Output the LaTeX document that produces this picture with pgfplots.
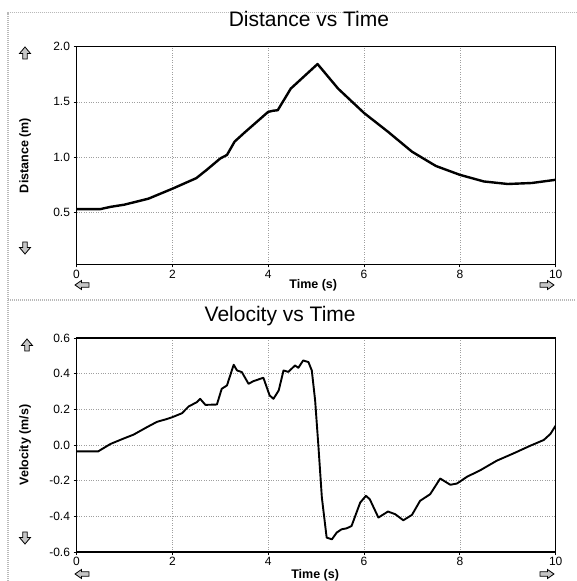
\documentclass[border=0pt]{standalone}
\usepackage{pgfplots}
\pgfplotsset{compat=1.18}
\usepackage{fontspec}
\setmainfont{Liberation Sans}
\pgfplotsset{
  myax/.style={
    scale only axis, width=479.2pt,
    xmin=0, xmax=10, xtick={0,2,4,6,8,10},
    xtick pos=bottom, ytick pos=left,
    grid=major, grid style={gray!75, dotted, line width=0.7pt},
    axis line style={line width=1.2pt},
    tick style={black, line width=0.8pt},
    major tick length=3pt, tick align=outside,
    ticklabel style={font=\fontsize{12}{14}\selectfont},
    /pgf/number format/assume math mode=true,
    yticklabel style={/pgf/number format/fixed, /pgf/number format/fixed zerofill, /pgf/number format/precision=1},
    xticklabel style={/pgf/number format/fixed, yshift=1pt},
    label style={font=\bfseries\fontsize{12.5}{14}\selectfont},
    ylabel style={at={(axis description cs:-0.107,0.5)}, anchor=center, rotate=0},
    title style={font=\fontsize{21}{25}\selectfont, anchor=center},
  }
}
\tikzset{
  uparr/.pic={\draw[fill=gray!45, line width=0.8pt, line join=miter]
    (-2.2,-6)--(2.2,-6)--(2.2,-0.5)--(5.5,-0.5)--(0,6)--(-5.5,-0.5)--(-2.2,-0.5)--cycle;},
  sidearr/.pic={\draw[fill=gray!45, line width=0.8pt, line join=miter]
    (-7,-2.2)--(0.5,-2.2)--(0.5,-4.5)--(7,0)--(0.5,4.5)--(0.5,2.2)--(-7,2.2)--cycle;}
}
\begin{document}
\begin{tikzpicture}[x=1pt,y=1pt]
\path[use as bounding box] (0,0) rectangle (576,581);
\draw[gray!55, line width=1.5pt, dash pattern=on 1pt off 1pt] (8,0) -- (8,568.3) -- (576,568.3);
\draw[gray!55, line width=1.5pt, dash pattern=on 1pt off 1pt] (8,281) -- (576,281);

\begin{axis}[myax, at={(76.5pt,316.7pt)}, anchor=south west, height=217.6pt,
  ymin=0.03, ymax=2.0, ytick={0.5,1,1.5,2},
  title={Distance vs Time}, title style={at={(axis description cs:0.485,1.10)}},
  xlabel={Time (s)}, xlabel style={at={(axis description cs:0.494,-0.095)}, anchor=center},
  ylabel={Distance (m)}]
\addplot[black, line width=2.4pt, line join=round] coordinates {
(0,0.53) (0.5,0.53) (0.71,0.55) (1.0,0.57) (1.5,0.624) (2.0,0.714) (2.5,0.81)
(2.72,0.886) (3.0,0.988) (3.14,1.02) (3.3,1.141) (3.5,1.22) (4.0,1.41) (4.1,1.42) (4.2,1.425)
(4.47,1.62) (5.03,1.843) (5.46,1.62) (6.0,1.40) (6.5,1.23) (7.0,1.05) (7.5,0.92)
(8.0,0.84) (8.5,0.78) (9.0,0.757) (9.5,0.766) (10.0,0.795)
};
\end{axis}

\begin{axis}[myax, at={(76.5pt,29pt)}, anchor=south west, height=214pt,
  ymin=-0.6, ymax=0.6, ytick={-0.6,-0.4,-0.2,0,0.2,0.4,0.6},
  title={Velocity vs Time}, title style={at={(axis description cs:0.425,1.076)}},
  xlabel={Time (s)}, xlabel style={at={(axis description cs:0.498,-0.107)}, anchor=center},
  ylabel={Velocity (m/s)}]
\addplot[black, line width=1.9pt, line join=round] coordinates {
(0,-0.036) (0.45,-0.036) (0.71,0.006) (0.99,0.037) (1.19,0.058) (1.47,0.10) (1.68,0.13)
(1.89,0.146) (2.0,0.156) (2.2,0.178) (2.34,0.216) (2.51,0.24) (2.58,0.259) (2.69,0.225)
(2.93,0.227) (3.03,0.315) (3.14,0.334) (3.28,0.45) (3.35,0.418) (3.45,0.409) (3.59,0.343)
(3.69,0.358) (3.9,0.377) (4.03,0.278) (4.11,0.259) (4.22,0.306) (4.32,0.418) (4.42,0.41)
(4.56,0.446) (4.63,0.433) (4.73,0.474) (4.84,0.465) (4.91,0.418) (4.98,0.249) (5.05,-0.013)
(5.12,-0.294) (5.22,-0.519) (5.33,-0.529) (5.43,-0.491) (5.53,-0.473) (5.64,-0.467)
(5.74,-0.454) (5.92,-0.323) (6.04,-0.285) (6.12,-0.304) (6.3,-0.407) (6.5,-0.373)
(6.65,-0.388) (6.82,-0.422) (7.0,-0.392) (7.17,-0.313) (7.38,-0.276) (7.59,-0.188)
(7.80,-0.223) (7.94,-0.216) (8.15,-0.178) (8.43,-0.141) (8.77,-0.088) (9.12,-0.047)
(9.47,-0.004) (9.75,0.028) (9.89,0.062) (10.0,0.109)
};
\end{axis}

\pic at (25,528) {uparr};
\pic[rotate=180] at (25,333) {uparr};
\pic[rotate=180] at (82,296) {sidearr};
\pic at (547,296) {sidearr};
\pic at (27,236) {uparr};
\pic[rotate=180] at (25,43) {uparr};
\pic[rotate=180] at (82,7) {sidearr};
\pic at (547,7) {sidearr};
\end{tikzpicture}
\end{document}
